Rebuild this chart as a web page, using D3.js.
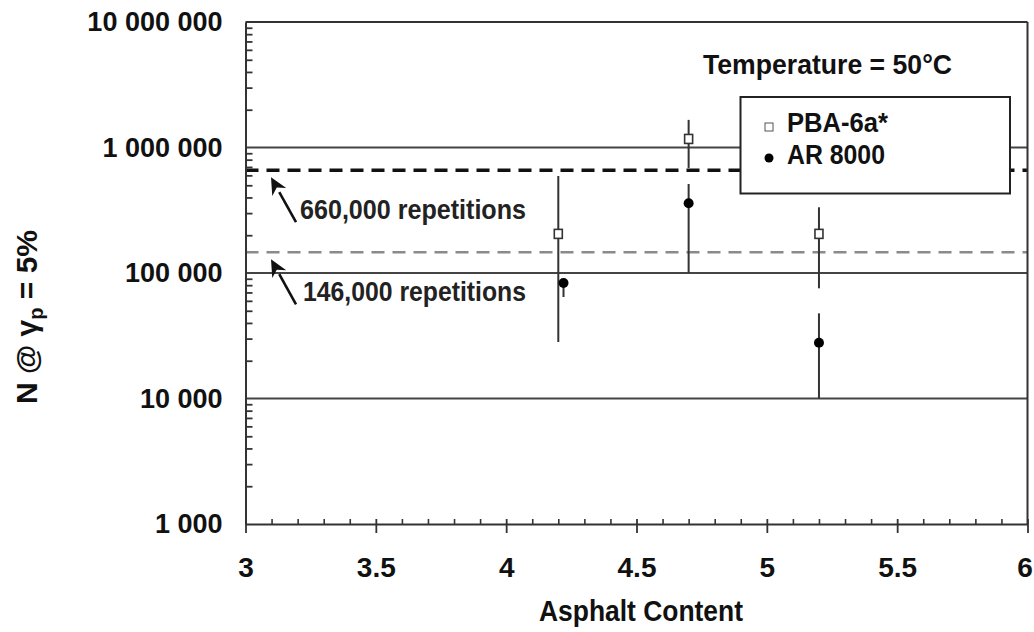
<!DOCTYPE html>
<html>
<head>
<meta charset="utf-8">
<script src="https://cdn.jsdelivr.net/npm/d3@7"></script>
<style>
  html, body { margin: 0; padding: 0; background: #fff; }
  svg { display: block; font-family: "Liberation Sans", Arial, Helvetica, sans-serif; font-weight: bold; }
</style>
</head>
<body>
<svg id="chart" width="1034" height="632"></svg>
<script>
// ---- data ----
const seriesNames = ["PBA-6a*", "AR 8000"];
const pbaX = [4.2, 4.7, 5.2];
const pbaN = [205000, 1170000, 205000];
const pbaLow = [28200, 687000, 75500];
const pbaHigh = [593000, 1660000, 334000];
const arX = [4.22, 4.7, 5.2];
const arN = [83200, 359000, 27800];
const arLow = [64400, 100000, 10000];
const arHigh = [83200, 512000, 47700];
const refValues = [660000, 146000];
const refLabels = ["660,000 repetitions", "146,000 repetitions"];
const gridValues = [10000, 100000, 1000000];
const yTickValues = [1000, 10000, 100000, 1000000, 10000000];
const xTickValues = [3, 3.5, 4, 4.5, 5, 5.5, 6];
const xTitle = "Asphalt Content";
const noteText = "Temperature = 50°C";

// ---- layout ----
const svg = d3.select("#chart");
const L = 245.5, T = 22, R = 1027.5, B = 524;
const x = d3.scaleLinear().domain([3, 6]).range([L, R]);
const y = d3.scaleLog().domain([1000, 10000000]).range([B, T]);

const fmt = v => d3.format(",")(v).replace(/,/g, " ");

// gridlines
svg.append("g").selectAll("line").data(gridValues).join("line")
  .attr("x1", L).attr("x2", R).attr("y1", d => y(d)).attr("y2", d => y(d))
  .attr("stroke", "#444").attr("stroke-width", 2);

// reference dashed lines
svg.append("line").attr("x1", L).attr("x2", R)
  .attr("y1", y(refValues[0])).attr("y2", y(refValues[0]))
  .attr("stroke", "#111").attr("stroke-width", 3.5).attr("stroke-dasharray", "13,8");
svg.append("line").attr("x1", L).attr("x2", R)
  .attr("y1", y(refValues[1])).attr("y2", y(refValues[1]))
  .attr("stroke", "#8a8a8a").attr("stroke-width", 2.5).attr("stroke-dasharray", "13,8");

// frame top & right
svg.append("line").attr("x1", L).attr("x2", R).attr("y1", T).attr("y2", T)
  .attr("stroke", "#333").attr("stroke-width", 2);
svg.append("line").attr("x1", R).attr("x2", R).attr("y1", T).attr("y2", B)
  .attr("stroke", "#333").attr("stroke-width", 2);

// y axis: major
const yAxis = svg.append("g").attr("transform", `translate(${L},0)`)
  .call(d3.axisLeft(y).tickValues(yTickValues).tickFormat(fmt).tickSize(0).tickPadding(23));
yAxis.select(".domain").attr("stroke", "#333").attr("stroke-width", 2);
yAxis.selectAll("text").attr("font-size", 27).attr("fill", "#111")
  .attr("font-family", "Liberation Sans, Arial, sans-serif").attr("font-weight", "bold");

// y axis: minor
const minorY = [];
for (let e = 3; e < 7; e++) for (let m = 2; m <= 9; m++) minorY.push(m * Math.pow(10, e));
const yMinor = svg.append("g").attr("transform", `translate(${L},0)`)
  .call(d3.axisRight(y).tickValues(minorY).tickFormat("").tickSize(7).tickSizeOuter(0));
yMinor.select(".domain").remove();
yMinor.selectAll("line").attr("stroke", "#333").attr("stroke-width", 1.8);

// x axis
const xAxis = svg.append("g").attr("transform", `translate(0,${B})`)
  .call(d3.axisBottom(x).tickValues(xTickValues).tickFormat(d3.format("")).tickSize(9).tickSizeOuter(0).tickPadding(24));
xAxis.select(".domain").attr("stroke", "#333").attr("stroke-width", 2);
xAxis.selectAll(".tick line").attr("y1", -5).attr("stroke", "#333").attr("stroke-width", 1.8);
xAxis.selectAll("text").attr("font-size", 28).attr("fill", "#111")
  .attr("font-family", "Liberation Sans, Arial, sans-serif").attr("font-weight", "bold")
  .attr("dx", d => d === 6 ? -3 : 0);

const minorX = d3.range(30, 61).map(d => d / 10).filter(d => Math.round(d * 10) % 5 !== 0);
const xMinor = svg.append("g").attr("transform", `translate(0,${B})`)
  .call(d3.axisTop(x).tickValues(minorX).tickFormat("").tickSize(5).tickSizeOuter(0));
xMinor.select(".domain").remove();
xMinor.selectAll("line").attr("stroke", "#333").attr("stroke-width", 1.6);

// error bars
const pba = pbaX.map((d, i) => ({ x: d, n: pbaN[i], lo: pbaLow[i], hi: pbaHigh[i] }));
const ar = arX.map((d, i) => ({ x: d, n: arN[i], lo: arLow[i], hi: arHigh[i] }));
svg.append("g").selectAll("line").data(pba.concat(ar)).join("line")
  .attr("x1", d => x(d.x)).attr("x2", d => x(d.x))
  .attr("y1", d => y(d.hi)).attr("y2", d => y(d.lo))
  .attr("stroke", "#333").attr("stroke-width", 2);

// markers
svg.append("g").selectAll("rect").data(pba).join("rect")
  .attr("x", d => x(d.x) - 4).attr("y", d => y(d.n) - 4.5)
  .attr("width", 8).attr("height", 9)
  .attr("fill", "#fff").attr("stroke", "#333").attr("stroke-width", 1.6);
svg.append("g").selectAll("circle").data(ar).join("circle")
  .attr("cx", d => x(d.x)).attr("cy", d => y(d.n)).attr("r", 5)
  .attr("fill", "#000");

// annotations with arrows
refValues.forEach((v, i) => {
  const yy = y(v);
  const tip = [271, yy + 7], tail = [296, yy + 52];
  const ang = Math.atan2(tail[1] - tip[1], tail[0] - tip[0]);
  const len = 17, w = 8;
  const bx = tip[0] + Math.cos(ang) * len, by = tip[1] + Math.sin(ang) * len;
  const px = -Math.sin(ang) * w, py = Math.cos(ang) * w;
  svg.append("line")
    .attr("x1", tail[0]).attr("y1", tail[1]).attr("x2", bx).attr("y2", by)
    .attr("stroke", "#111").attr("stroke-width", 2.6);
  svg.append("path")
    .attr("d", `M${tip[0]},${tip[1]} L${bx + px},${by + py} L${tip[0] + Math.cos(ang) * len * 0.7},${tip[1] + Math.sin(ang) * len * 0.7} L${bx - px},${by - py} Z`)
    .attr("fill", "#111");
  svg.append("text").attr("x", i === 0 ? 300 : 303).attr("y", yy + 49)
    .attr("font-size", 27).attr("fill", "#222")
    .attr("textLength", i === 0 ? 226 : 223).attr("lengthAdjust", "spacingAndGlyphs")
    .text(refLabels[i]);
});

// temperature note
svg.append("text").attr("x", 703).attr("y", 74).attr("font-size", 27).attr("fill", "#111")
  .attr("textLength", 249).attr("lengthAdjust", "spacingAndGlyphs").text(noteText);

// legend
const lg = svg.append("g");
lg.append("rect").attr("x", 740.5).attr("y", 97).attr("width", 269.5).attr("height", 96.5)
  .attr("fill", "#fff").attr("stroke", "#222").attr("stroke-width", 2);
lg.append("rect").attr("x", 765).attr("y", 123).attr("width", 8).attr("height", 8)
  .attr("fill", "#fff").attr("stroke", "#555").attr("stroke-width", 1);
lg.append("circle").attr("cx", 769).attr("cy", 158).attr("r", 4.5).attr("fill", "#000");
lg.append("text").attr("x", 787).attr("y", 132).attr("font-size", 27).attr("fill", "#111")
  .attr("textLength", 101).attr("lengthAdjust", "spacingAndGlyphs").text(seriesNames[0]);
lg.append("text").attr("x", 787).attr("y", 164).attr("font-size", 27).attr("fill", "#111")
  .attr("textLength", 98).attr("lengthAdjust", "spacingAndGlyphs").text(seriesNames[1]);

// x title
svg.append("text").attr("x", 641).attr("y", 621).attr("text-anchor", "middle")
  .attr("font-size", 29).attr("fill", "#111")
  .attr("textLength", 204).attr("lengthAdjust", "spacingAndGlyphs").text(xTitle);

// y title
const yt = svg.append("text").attr("transform", "translate(37,317) rotate(-90)")
  .attr("text-anchor", "middle").attr("font-size", 30).attr("fill", "#111");
yt.append("tspan").text("N @ γ");
yt.append("tspan").attr("font-size", 20).attr("dy", 6).text("p");
yt.append("tspan").attr("dy", -6).text(" = 5%");
</script>
</body>
</html>
